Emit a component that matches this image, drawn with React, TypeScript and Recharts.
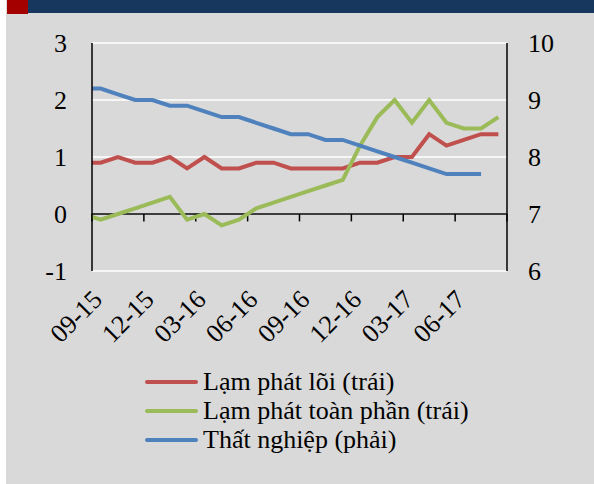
import React from "react";
import {
  LineChart,
  Line,
  XAxis,
  YAxis,
  CartesianGrid,
  ReferenceLine,
  Legend,
} from "recharts";

// Monthly series, 08-15 .. 08-17. The first month sits just left of the
// visible axis window and is clipped, as in the source chart.
const months = [
  "08-15", "09-15", "10-15", "11-15", "12-15", "01-16", "02-16", "03-16",
  "04-16", "05-16", "06-16", "07-16", "08-16", "09-16", "10-16", "11-16",
  "12-16", "01-17", "02-17", "03-17", "04-17", "05-17", "06-17", "07-17",
  "08-17",
];
const coreInflation = [
  0.9, 0.9, 1.0, 0.9, 0.9, 1.0, 0.8, 1.0, 0.8, 0.8, 0.9, 0.9, 0.8, 0.8, 0.8,
  0.8, 0.9, 0.9, 1.0, 1.0, 1.4, 1.2, 1.3, 1.4, 1.4,
];
const headlineInflation = [
  0.0, -0.1, 0.0, 0.1, 0.2, 0.3, -0.1, 0.0, -0.2, -0.1, 0.1, 0.2, 0.3, 0.4,
  0.5, 0.6, 1.2, 1.7, 2.0, 1.6, 2.0, 1.6, 1.5, 1.5, 1.7,
];
const unemployment: (number | null)[] = [
  9.2, 9.2, 9.1, 9.0, 9.0, 8.9, 8.9, 8.8, 8.7, 8.7, 8.6, 8.5, 8.4, 8.4, 8.3,
  8.3, 8.2, 8.1, 8.0, 7.9, 7.8, 7.7, 7.7, 7.7, null,
];
const labelMonths = ["09-15", "12-15", "03-16", "06-16", "09-16", "12-16", "03-17", "06-17"];
const leftTicks = [-1, 0, 1, 2, 3];
const rightTicks = [6, 7, 8, 9, 10];

const FONT = '"Liberation Serif", serif';

const data = months.map((m, i) => ({
  t: i - 1,
  month: m,
  core: coreInflation[i],
  headline: headlineInflation[i],
  unemp: unemployment[i],
}));

const labelTicks = labelMonths.map((m) => months.indexOf(m) - 1);
const tickMarks = [...labelTicks.map((t) => t - 0.5), months.length - 1.5];

function MonthTick({ x, y, payload }: any) {
  return (
    <text
      x={x + 3}
      y={y}
      transform={`rotate(-45, ${x + 3}, ${y})`}
      textAnchor="end"
      fontFamily={FONT}
      fontSize={26}
      fill="#000"
    >
      {months[payload.value + 1]}
    </text>
  );
}

function LegendBox({ payload }: any) {
  return (
    <div style={{ fontFamily: FONT, fontSize: 26, color: "#000" }}>
      {(payload ?? []).map((e: any) => (
        <div key={e.value} style={{ display: "flex", alignItems: "center", height: 29 }}>
          <span
            style={{
              display: "inline-block",
              width: 53,
              height: 4,
              borderRadius: 2,
              background: e.color,
              marginRight: 5,
            }}
          />
          <span style={{ lineHeight: "29px", whiteSpace: "nowrap" }}>{e.value}</span>
        </div>
      ))}
    </div>
  );
}

export default function App() {
  return (
    <div
      style={{
        position: "absolute",
        left: 0,
        top: 0,
        width: 594,
        height: 484,
        background: "#fff",
        overflow: "hidden",
      }}
    >
      <div style={{ position: "absolute", left: 6, top: 0, width: 588, height: 484, background: "#D9D9D9" }} />
      <div style={{ position: "absolute", left: 28, top: 0, width: 566, height: 13, background: "#17375E" }} />
      <div style={{ position: "absolute", left: 7, top: 0, width: 21, height: 14, background: "#A50000" }} />
      <div style={{ position: "absolute", left: 0, top: 0 }}>
        <LineChart
          width={594}
          height={484}
          data={data}
          margin={{ top: 43, right: 7, bottom: 153, left: 6 }}
        >
          <CartesianGrid yAxisId="left" vertical={false} stroke="#fff" strokeWidth={1.5} />
          <XAxis
            dataKey="t"
            type="number"
            domain={[-0.5, months.length - 1.5]}
            allowDataOverflow
            ticks={labelTicks}
            interval={0}
            axisLine={false}
            tickLine={false}
            tickSize={0}
            tickMargin={30}
            height={60}
            tick={<MonthTick />}
          />
          <YAxis
            yAxisId="left"
            domain={[-1, 3]}
            ticks={leftTicks}
            width={86}
            axisLine={{ stroke: "#000", strokeWidth: 1.5 }}
            tickLine={false}
            tickSize={0}
            tickMargin={25}
            tick={{ fontFamily: FONT, fontSize: 26, fill: "#000" }}
          />
          <YAxis
            yAxisId="right"
            orientation="right"
            domain={[6, 10]}
            ticks={rightTicks}
            width={80}
            axisLine={{ stroke: "#000", strokeWidth: 1.5 }}
            tickLine={false}
            tickSize={0}
            tickMargin={21}
            tick={{ fontFamily: FONT, fontSize: 26, fill: "#000", textAnchor: "start" }}
          />
          <ReferenceLine yAxisId="left" y={0} stroke="#000" strokeWidth={1.5} />
          {tickMarks.map((t) => (
            <ReferenceLine
              key={t}
              yAxisId="left"
              segment={[
                { x: t, y: 0 },
                { x: t, y: -0.13 },
              ]}
              stroke="#000"
              strokeWidth={1.5}
            />
          ))}
          <Line
            yAxisId="left"
            dataKey="core"
            name="Lạm phát lõi (trái)"
            stroke="#C0504D"
            strokeWidth={4}
            dot={false}
            isAnimationActive={false}
          />
          <Line
            yAxisId="left"
            dataKey="headline"
            name="Lạm phát toàn phần (trái)"
            stroke="#9BBB59"
            strokeWidth={4}
            dot={false}
            isAnimationActive={false}
          />
          <Line
            yAxisId="right"
            dataKey="unemp"
            name="Thất nghiệp (phải)"
            stroke="#4F81BD"
            strokeWidth={4}
            dot={false}
            isAnimationActive={false}
          />
          <Legend
            layout="vertical"
            align="center"
            verticalAlign="middle"
            content={<LegendBox />}
            wrapperStyle={{ left: 145, top: 367, width: "auto" }}
          />
        </LineChart>
      </div>
    </div>
  );
}
